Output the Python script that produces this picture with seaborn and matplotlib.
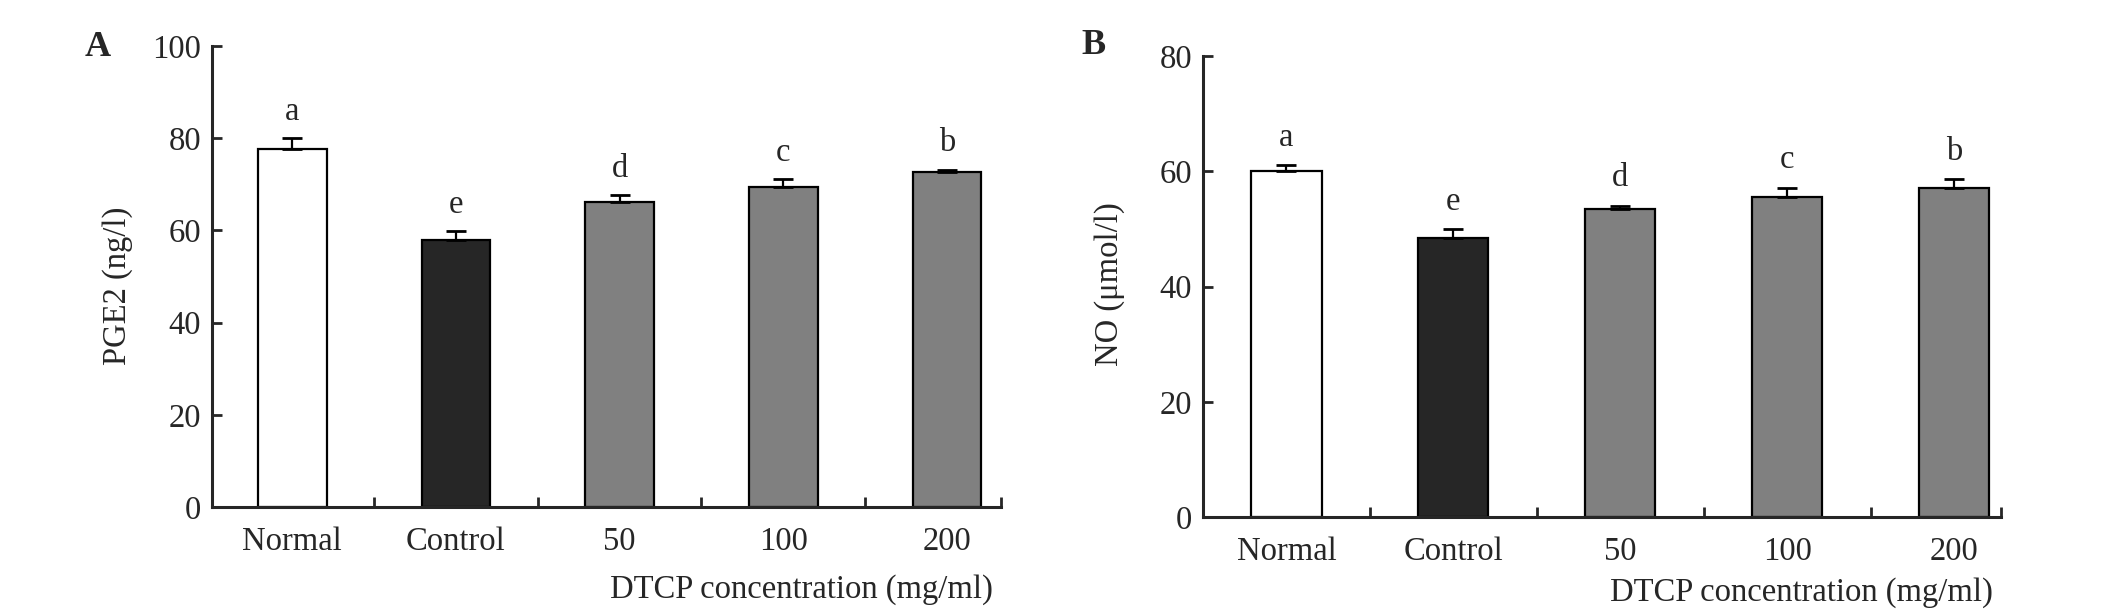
import matplotlib
matplotlib.use("Agg")
import matplotlib.pyplot as plt
import seaborn as sns
import numpy as np
import pandas as pd

categories = ["Normal", "Control", "50", "100", "200"]
bar_colors = ["#ffffff", "#262626", "#808080", "#808080", "#808080"]

pge2_values = [77.7, 58.0, 66.2, 69.4, 72.6]
pge2_errors = [2.4, 1.8, 1.4, 1.8, 0.6]
pge2_letters = ["a", "e", "d", "c", "b"]

no_values = [60.1, 48.4, 53.5, 55.5, 57.1]
no_errors = [0.9, 1.5, 0.5, 1.6, 1.5]
no_letters = ["a", "e", "d", "c", "b"]

sns.set_style("ticks")
plt.rcParams["font.family"] = ["Liberation Serif", "DejaVu Serif"]

FS = 23.5

fig = plt.figure(figsize=(21.26, 6.09), dpi=100)
fig.patch.set_facecolor("white")


def draw_panel(rect, values, errors, letters, ymax, ystep, ylabel, xlim,
               ylab_pos, xlab_pos, letter_off):
    ax = fig.add_axes(rect)
    df = pd.DataFrame({"cat": categories, "val": values})
    sns.barplot(data=df, x="cat", y="val", hue="cat", palette=bar_colors,
                legend=False, edgecolor="black", linewidth=1.6, width=0.42,
                saturation=1, errorbar=None, ax=ax)
    xs = np.arange(len(categories))
    ax.errorbar(xs, values, yerr=[np.zeros(len(errors)), errors], fmt="none",
                ecolor="black", elinewidth=1.6, capsize=7, capthick=2.0,
                zorder=3)
    for x, v, e, t in zip(xs, values, errors, letters):
        ax.annotate(t, (x, v + e), xytext=(0, letter_off),
                    textcoords="offset points", ha="center", va="center",
                    fontsize=FS)
    ax.set_xlim(*xlim)
    ax.set_ylim(0, ymax)
    ax.set_yticks(np.arange(0, ymax + 0.1, ystep))
    ax.set_xticks(xs)
    ax.set_xticklabels(categories)
    ax.set_xticks([0.5, 1.5, 2.5, 3.5, xlim[1]], minor=True)
    ax.tick_params(axis="x", which="major", length=0, pad=14, labelsize=FS)
    ax.tick_params(axis="x", which="minor", direction="in", length=7,
                   width=2.0)
    ax.tick_params(axis="y", direction="in", length=7, width=2.0, pad=8,
                   labelsize=FS)
    for s in ["top", "right"]:
        ax.spines[s].set_visible(False)
    for s in ["left", "bottom"]:
        ax.spines[s].set_linewidth(2.2)
    ax.set_ylabel(ylabel, fontsize=FS)
    ax.yaxis.set_label_coords(*ylab_pos)
    ax.set_xlabel("DTCP concentration (mg/ml)", fontsize=FS, ha="right",
                  va="center")
    ax.xaxis.set_label_coords(*xlab_pos)
    ax.set_facecolor("white")
    return ax


axA = draw_panel([212 / 2126, 1 - 507 / 609, (1001 - 212) / 2126, (507 - 46) / 609],
                 pge2_values, pge2_errors, pge2_letters, 100, 20,
                 "PGE2 (ng/l)", (-0.49, 4.33), (-0.100, 0.48), (0.99, -0.18), 19)
axB = draw_panel([1203 / 2126, 1 - 517 / 609, (2001 - 1203) / 2126, (517 - 56) / 609],
                 no_values, no_errors, no_letters, 80, 20,
                 "NO (μmol/l)", (-0.50, 4.28), (-0.098, 0.505), (0.99, -0.165), 20)

fig.text(98 / 2126, 1 - 47 / 609, "A", fontsize=26, fontweight="bold",
         ha="center", va="center")
fig.text(1093 / 2126, 1 - 45 / 609, "B", fontsize=26, fontweight="bold",
         ha="center", va="center")

fig.savefig("out.png", dpi=100, facecolor="white")
